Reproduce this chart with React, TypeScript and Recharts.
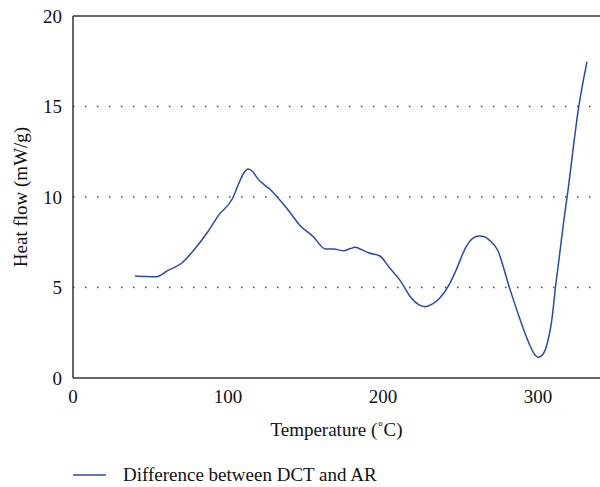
import React from 'react';
import { LineChart, Line, XAxis, YAxis, CartesianGrid, ReferenceLine, Legend } from 'recharts';

const temperature = [40, 47, 54, 61, 70, 78, 87, 94, 103, 107, 110, 113, 116, 119, 127.6, 138, 146.8, 155, 162.8, 168, 174.6, 179, 182, 186, 190.6, 198, 204.5, 210.9, 218.4, 223, 227, 232, 236.5, 243, 247.2, 253.6, 257.9, 262.2, 265.5, 268.6, 273.9, 281.4, 287.8, 294.2, 297.4, 300.2, 302.8, 306, 309.2, 311.3, 313.5, 316.7, 318.8, 326.3, 331.6];
const heatFlow = [5.64, 5.61, 5.6, 5.93, 6.34, 7.07, 8.08, 9.0, 9.93, 10.76, 11.3, 11.55, 11.4, 11.03, 10.39, 9.37, 8.4, 7.81, 7.13, 7.13, 7.03, 7.15, 7.22, 7.1, 6.92, 6.74, 6.06, 5.41, 4.4, 4.05, 3.94, 4.09, 4.4, 5.2, 5.97, 7.25, 7.72, 7.85, 7.8, 7.62, 7.07, 5.04, 3.39, 1.92, 1.36, 1.14, 1.27, 1.92, 3.39, 5.04, 6.52, 8.73, 10.02, 14.99, 17.48];
const xTicks = [0, 100, 200, 300];
const yTicks = [0, 5, 10, 15, 20];
const gridValues = [5, 10, 15];
const seriesName = 'Difference between DCT and AR';

const data = temperature.map((t, i) => ({ t, v: heatFlow[i] }));

const FONT = '"Liberation Serif", "Times New Roman", serif';
const FS = 19;
const LINE_COLOR = '#2b4aa6';
const AXIS_COLOR = '#333333';

const YLabel = (props: any) => {
  const vb = props.viewBox || {};
  const cx = 20;
  const cy = (vb.y ?? 16) + (vb.height ?? 362) / 2;
  return (
    <text x={cx} y={cy} transform={`rotate(-90, ${cx}, ${cy})`} textAnchor="middle" dominantBaseline="central" fontFamily={FONT} fontSize={FS} fill="#111">
      Heat flow (mW/g)
    </text>
  );
};

const LegendContent = () => (
  <div style={{ display: 'flex', alignItems: 'center', fontFamily: FONT, fontSize: FS, color: '#111', whiteSpace: 'nowrap' }}>
    <svg width={33} height={4} style={{ marginRight: 17 }}>
      <line x1={0} y1={2} x2={33} y2={2} stroke={LINE_COLOR} strokeWidth={1.3} />
    </svg>
    <span>{seriesName}</span>
  </div>
);

export default function App() {
  return (
    <div style={{ position: 'absolute', left: 0, top: 0, width: 600, height: 487, background: '#fff' }}>
      <LineChart width={600} height={487} data={data} margin={{ top: 16, right: 0, left: 0, bottom: 47 }}>
        <CartesianGrid horizontal vertical={false} horizontalValues={gridValues} stroke="#444" strokeDasharray="1.5 10.5" strokeWidth={1.3} />
        <ReferenceLine y={20} stroke={AXIS_COLOR} strokeWidth={1.5} />
        <XAxis
          dataKey="t"
          type="number"
          domain={[0, 340]}
          ticks={xTicks}
          allowDataOverflow
          tickLine={false}
          tickMargin={6}
          axisLine={{ stroke: AXIS_COLOR, strokeWidth: 1.5 }}
          tick={{ fontFamily: FONT, fontSize: FS, fill: '#111' }}
          height={62}
          label={{ value: 'Temperature (˚C)', position: 'insideBottom', offset: 4, fontFamily: FONT, fontSize: FS, fill: '#111' }}
        />
        <YAxis
          type="number"
          domain={[0, 20]}
          ticks={yTicks}
          tickLine={false}
          tickMargin={5}
          width={73}
          axisLine={{ stroke: AXIS_COLOR, strokeWidth: 1.5 }}
          tick={{ fontFamily: FONT, fontSize: FS, fill: '#111' }}
          label={<YLabel />}
        />
        <Legend verticalAlign="middle" layout="horizontal" align="center" content={<LegendContent />} wrapperStyle={{ top: 464, left: 73, width: 400 }} />
        <Line type="monotone" dataKey="v" name={seriesName} stroke={LINE_COLOR} strokeWidth={1.5} dot={false} isAnimationActive={false} />
      </LineChart>
    </div>
  );
}
